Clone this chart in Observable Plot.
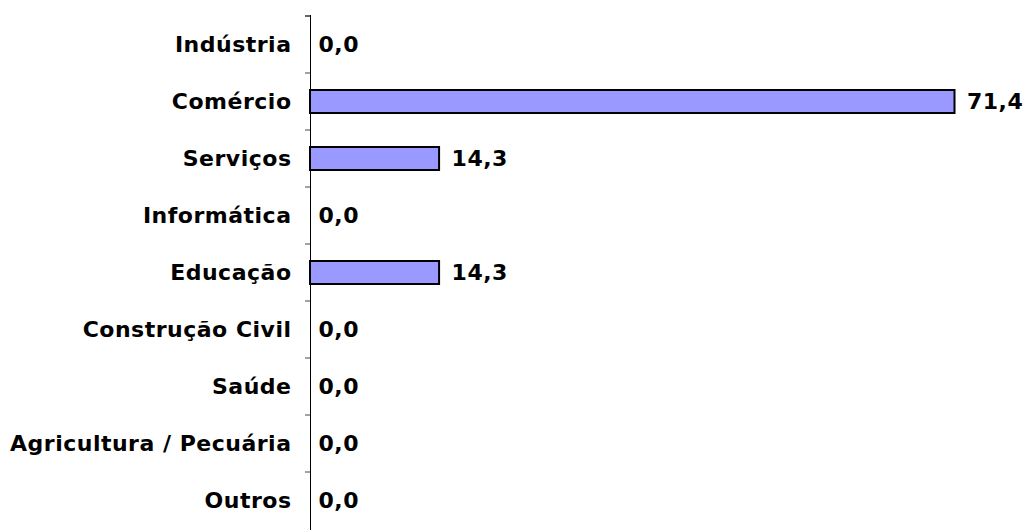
<!DOCTYPE html>
<html>
<head>
<meta charset="utf-8">
<script src="https://cdn.jsdelivr.net/npm/d3@7"></script>
<script src="https://cdn.jsdelivr.net/npm/@observablehq/plot@0.6"></script>
<style>
  html, body { margin: 0; padding: 0; background: #fff; overflow: hidden; }
</style>
</head>
<body>
<div id="chart"></div>
<script>
const categories = ["Indústria", "Comércio", "Serviços", "Informática", "Educação", "Construção Civil", "Saúde", "Agricultura / Pecuária", "Outros"];
const values = [0.0, 71.4, 14.3, 0.0, 14.3, 0.0, 0.0, 0.0, 0.0];

const data = categories.map((c, i) => ({category: c, value: values[i]}));
const fmt = v => v.toFixed(1).replace(".", ",");

const font = {fontFamily: "DejaVu Sans, Verdana, sans-serif", fontWeight: "bold", fontSize: "22px", letterSpacing: "0.5px"};

const plot = Plot.plot({
  width: 1023,
  height: 530,
  marginLeft: 310,
  marginRight: 36,
  marginTop: 15,
  marginBottom: 0,
  style: {...font, background: "#fff", color: "#000"},
  x: {domain: [0, 75], axis: null},
  y: {domain: categories, paddingInner: 0.59, paddingOuter: 0.295, label: null},
  marks: [
    Plot.axisY({tickSize: 0, tickPadding: 19, fill: "#000", label: null}),
    Plot.barX(data.filter(d => d.value > 0), {x: "value", y: "category", fill: "#9999FF", stroke: "#000", strokeWidth: 2}),
    Plot.ruleX([0], {stroke: "#000", strokeWidth: 1}),
    Plot.text(data.filter(d => d.value === 0), {x: "value", y: "category", text: d => fmt(d.value), textAnchor: "start", dx: 8, fill: "#000"}),
    Plot.text(data.filter(d => d.value > 0), {x: "value", y: "category", text: d => fmt(d.value), textAnchor: "start", dx: 12, fill: "#000"})
  ]
});

document.getElementById("chart").appendChild(plot);

// boundary tick marks on the category axis, placed with the plot's own y scale
const ys = plot.scale("y");
const xs = plot.scale("x");
const step = ys.step;
const x0 = xs.apply(0);
const bounds = categories.map(c => ys.apply(c) - (step - ys.bandwidth) / 2);
d3.select(plot).append("g")
  .selectAll("line")
  .data(bounds)
  .join("line")
  .attr("x1", x0 - 5)
  .attr("x2", x0)
  .attr("y1", d => d)
  .attr("y2", d => d)
  .attr("stroke", (d, i) => i === 0 ? "#000" : "#666")
  .attr("stroke-width", 1.2);
</script>
</body>
</html>
